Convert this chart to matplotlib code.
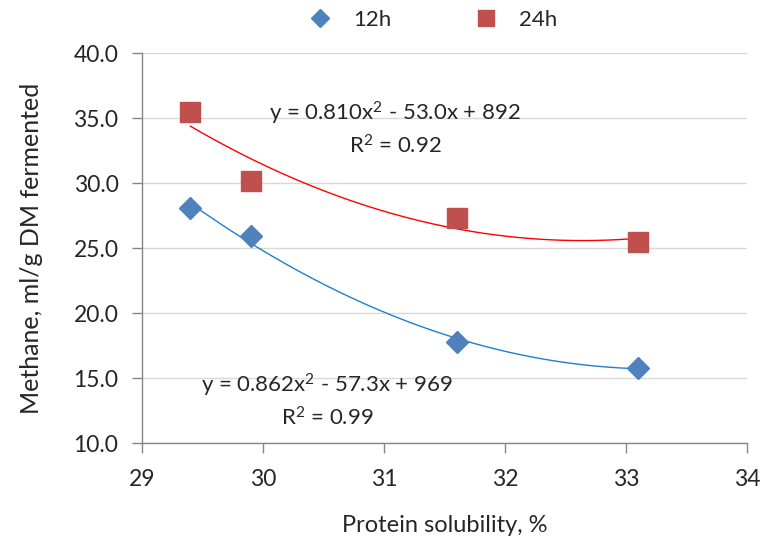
import numpy as np
import matplotlib
matplotlib.use("Agg")
import matplotlib.pyplot as plt
from matplotlib.lines import Line2D

plt.rcParams['font.family'] = ['Lato', 'DejaVu Sans']
plt.rcParams['mathtext.fontset'] = 'custom'
plt.rcParams['mathtext.rm'] = 'Lato'
plt.rcParams['mathtext.it'] = 'Lato:italic'

# Protein solubility (%) and methane yield (ml/g DM fermented)
solubility = [29.4, 29.9, 31.6, 33.1]
methane_12h = [28.1, 25.9, 17.8, 15.8]
methane_24h = [35.5, 30.2, 27.3, 25.5]

eq_24h = r"y = 0.810x$^\mathregular{2}$ - 53.0x + 892"
r2_24h = r"R$^\mathregular{2}$ = 0.92"
eq_12h = r"y = 0.862x$^\mathregular{2}$ - 57.3x + 969"
r2_12h = r"R$^\mathregular{2}$ = 0.99"

x_ticks = [29, 30, 31, 32, 33, 34]
y_ticks = [10.0, 15.0, 20.0, 25.0, 30.0, 35.0, 40.0]

blue = '#4F81BD'
red = '#C0504D'
grid_c = '#D9D9D9'
axis_c = '#868686'
text_c = '#262626'

fig = plt.figure(figsize=(7.61, 5.46), dpi=100)
ax = fig.add_axes([0.1866, 0.1886, 0.795, 0.714])

# quadratic trendlines over the data range
xs = np.linspace(min(solubility), max(solubility), 200)
c12 = np.polyfit(solubility, methane_12h, 2)
c24 = np.polyfit(solubility, methane_24h, 2)
ax.plot(xs, np.polyval(c24, xs), color='#FF0000', lw=1.0, zorder=3)
ax.plot(xs, np.polyval(c12, xs), color='#1F7FD0', lw=1.0, zorder=3)

ax.plot(solubility, methane_12h, linestyle='none', marker='D', ms=11,
        color=blue, zorder=4)
ax.plot(solubility, methane_24h, linestyle='none', marker='s', ms=15,
        color=red, zorder=4)

ax.set_xlim(29, 34)
ax.set_ylim(10, 40)
ax.set_xticks(x_ticks)
ax.set_xticklabels([str(t) for t in x_ticks])
ax.set_yticks(y_ticks)
ax.set_yticklabels([f"{t:.1f}" for t in y_ticks])

ax.grid(axis='y', color=grid_c, lw=1.0)
ax.set_axisbelow(True)
for s in ('top', 'right'):
    ax.spines[s].set_visible(False)
for s in ('left', 'bottom'):
    ax.spines[s].set_color(axis_c)
    ax.spines[s].set_linewidth(1.0)
ax.tick_params(axis='both', colors=axis_c, length=7, width=1.0,
               labelsize=16.5, labelcolor=text_c, direction='out')
ax.tick_params(axis='x', pad=12)
ax.tick_params(axis='y', pad=10)

ax.set_xlabel("Protein solubility, %", fontsize=17, color=text_c, labelpad=18)
ax.set_ylabel("Methane, ml/g DM fermented", fontsize=18, color=text_c,
              labelpad=22)

# equations
ax.text(31.09, 35.4, eq_24h, fontsize=16, color=text_c, ha='center', va='center')
ax.text(31.09, 32.85, r2_24h, fontsize=16, color=text_c, ha='center', va='center')
ax.text(30.53, 14.46, eq_12h, fontsize=16, color=text_c, ha='center', va='center')
ax.text(30.53, 11.9, r2_12h, fontsize=16, color=text_c, ha='center', va='center')

handles = [
    Line2D([], [], linestyle='none', marker='D', ms=9, color=blue, label='12h'),
    Line2D([], [], linestyle='none', marker='s', ms=12, color=red, label='24h'),
]
fig.legend(handles=handles, loc='center', bbox_to_anchor=(0.562, 0.963),
           ncol=2, frameon=False, fontsize=16, columnspacing=3.25,
           handletextpad=0.5, labelcolor=text_c)

fig.savefig("out.png", dpi=100)
